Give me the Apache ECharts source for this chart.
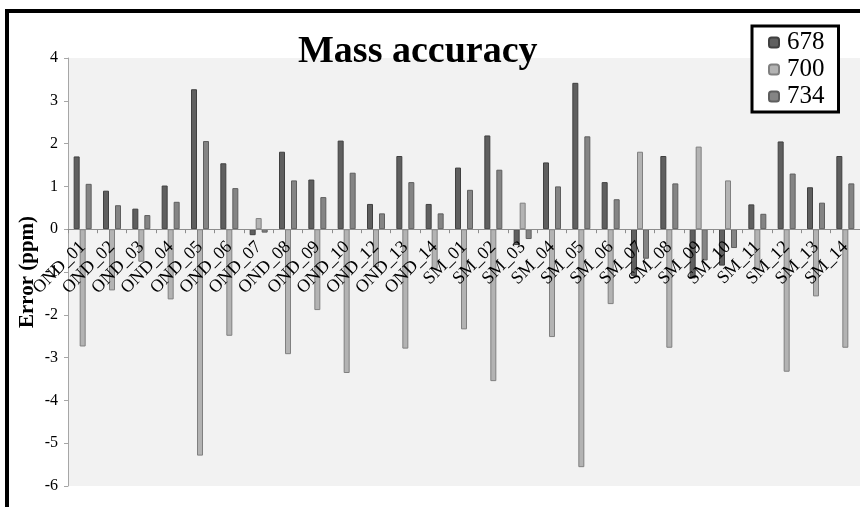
<!DOCTYPE html>
<html>
<head>
<meta charset="utf-8">
<script src="https://cdn.jsdelivr.net/npm/echarts@6/dist/echarts.min.js"></script>
<style>
  html, body { margin: 0; padding: 0; background: #fff; }
  #container { width: 860px; height: 507px; }
</style>
</head>
<body>
<div id="container"></div>
<script>
var categories = ['OND_01', 'OND_02', 'OND_03', 'OND_04', 'OND_05', 'OND_06', 'OND_07', 'OND_08', 'OND_09',
    'OND_10', 'OND_12', 'OND_13', 'OND_14', 'SM_01', 'SM_02', 'SM_03', 'SM_04', 'SM_05', 'SM_06', 'SM_07',
    'SM_08', 'SM_09', 'SM_10', 'SM_11', 'SM_12', 'SM_13', 'SM_14'];

var err678 = [1.70, 0.90, 0.48, 1.02, 3.27, 1.54, -0.14, 1.81, 1.16, 2.07, 0.59, 1.71, 0.59,
    1.44, 2.19, -0.37, 1.56, 3.42, 1.10, -1.09, 1.71, -1.15, -0.85, 0.58, 2.05, 0.98, 1.71];
var err700 = [-2.74, -1.43, -0.76, -1.64, -5.29, -2.49, 0.26, -2.92, -1.89, -3.36, -0.89, -2.79, -0.93,
    -2.34, -3.55, 0.62, -2.52, -5.56, -1.75, 1.81, -2.77, 1.93, 1.14, -0.93, -3.33, -1.57, -2.77];
var err734 = [1.06, 0.56, 0.33, 0.64, 2.06, 0.96, -0.08, 1.14, 0.75, 1.32, 0.37, 1.10, 0.37,
    0.92, 1.39, -0.23, 1.00, 2.17, 0.70, -0.69, 1.07, -0.73, -0.44, 0.36, 1.30, 0.62, 1.07];

var serif = '"Liberation Serif", "DejaVu Serif", serif';

var myChart = echarts.init(document.getElementById('container'));

// plot box: y = 4 at top 58px, y = -6 at bottom 486px
var gridTop = 58, gridBottom = 21, yMin = -6, yMax = 4;
var plotH = 507 - gridTop - gridBottom;
var zeroOffset = -plotH * (0 - yMin) / (yMax - yMin);

function bar(name, data, fill, stroke) {
    return {
        name: name,
        type: 'bar',
        barWidth: 6,
        barGap: '0%',
        data: data,
        itemStyle: { color: fill, borderColor: stroke, borderWidth: 1 }
    };
}

var option = {
    animation: false,
    backgroundColor: '#fff',
    textStyle: { fontFamily: serif },
    title: {
        text: 'Mass accuracy',
        left: 293,
        top: 28,
        textStyle: { fontFamily: serif, fontWeight: 'bold', fontSize: 38, color: '#000' }
    },
    legend: {
        data: ['678', '700', '734'],
        orient: 'vertical',
        left: 752,
        top: 26,
        padding: [4, 14, 3, 16],
        itemGap: 2,
        itemWidth: 10,
        itemHeight: 10,
        borderColor: '#000',
        borderWidth: 3,
        backgroundColor: '#fff',
        textStyle: { fontFamily: serif, fontSize: 25, color: '#000', padding: [0, 0, 0, 3] }
    },
    graphic: [{
        type: 'rect',
        z: 100,
        shape: { x: 7, y: 11, width: 900, height: 600 },
        style: { fill: 'none', stroke: '#000', lineWidth: 4 }
    }],
    grid: {
        left: 68,
        right: 0,
        top: gridTop,
        bottom: gridBottom,
        outerBoundsMode: 'none',
        containLabel: false,
        show: true,
        backgroundColor: '#f2f2f2',
        borderWidth: 0
    },
    xAxis: {
        type: 'category',
        data: categories,
        z: 5,
        position: 'bottom',
        offset: zeroOffset,
        axisLine: { onZero: false, lineStyle: { color: '#8c8c8c', width: 1 } },
        axisTick: { show: true, length: 4, lineStyle: { color: '#8c8c8c' } },
        axisLabel: {
            interval: 0,
            rotate: 45,
            margin: 15,
            fontFamily: serif,
            fontSize: 18,
            color: '#000'
        },
        splitLine: { show: false }
    },
    yAxis: {
        type: 'value',
        min: yMin,
        max: yMax,
        interval: 1,
        name: 'Error (ppm)',
        nameLocation: 'middle',
        nameGap: 30,
        nameMoveOverlap: false,
        nameTextStyle: { fontFamily: serif, fontWeight: 'bold', fontSize: 21, color: '#000' },
        axisLine: { show: true, lineStyle: { color: '#a6a6a6' } },
        axisTick: { show: true, length: 4, lineStyle: { color: '#a6a6a6' } },
        axisLabel: { fontFamily: serif, fontSize: 16, color: '#000', margin: 10 },
        splitLine: { show: false }
    },
    series: [
        bar('678', err678, '#5f5f5f', '#404040'),
        bar('700', err700, '#b3b3b3', '#808080'),
        bar('734', err734, '#848484', '#5e5e5e')
    ]
};

myChart.setOption(option, true);
</script>
</body>
</html>
